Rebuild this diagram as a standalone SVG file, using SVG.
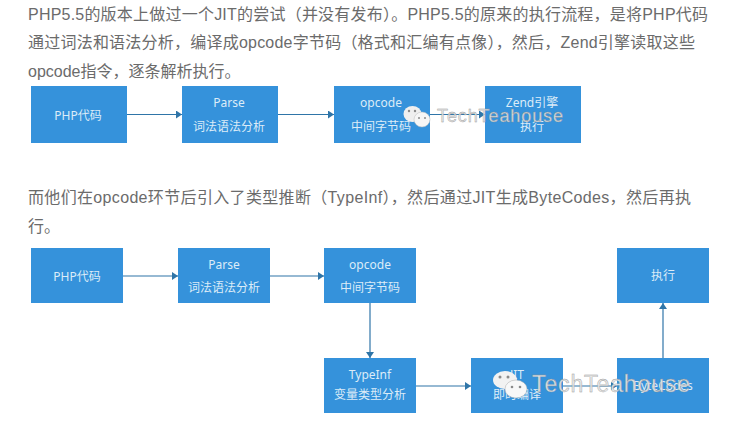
<svg xmlns="http://www.w3.org/2000/svg" width="743" height="444" viewBox="0 0 743 444">
<style>
.p{font-family:"Liberation Sans","Noto Sans CJK SC",sans-serif;font-size:16px;fill:#6b6b6b}
.b{fill:#3592db}
.t{font-family:"Noto Sans","Noto Sans CJK SC",sans-serif;font-size:12px;fill:#dcecf8;text-anchor:middle}
.c{fill:none;stroke:#2f75a8;stroke-width:1.2}
.w{font-family:"Liberation Sans",sans-serif;fill:#e6e6e6;stroke:#8f8f8f;stroke-width:.4;opacity:.9}
.e{fill:#8a8a8a}
</style>
<defs><marker id="a" markerWidth="7" markerHeight="8" refX="6" refY="4" orient="auto" markerUnits="userSpaceOnUse"><path d="M0 0L6 4L0 8Z" fill="#2f75a8"/></marker></defs>
<rect width="743" height="444" fill="#fff"/>
<g id="text">
<text class="p" x="28" y="20" textLength="680" lengthAdjust="spacing">PHP5.5的版本上做过一个JIT的尝试（并没有发布）。PHP5.5的原来的执行流程，是将PHP代码</text>
<text class="p" x="28" y="48" textLength="667" lengthAdjust="spacing">通过词法和语法分析，编译成opcode字节码（格式和汇编有点像），然后，Zend引擎读取这些</text>
<text class="p" x="28" y="77">opcode指令，逐条解析执行。</text>
<text class="p" x="28" y="203" textLength="663" lengthAdjust="spacing">而他们在opcode环节后引入了类型推断（TypeInf），然后通过JIT生成ByteCodes，然后再执</text>
<text class="p" x="28" y="232">行。</text>
</g>
<g id="connectors">
<path class="c" marker-end="url(#a)" d="M127 114.500H182"/>
<path class="c" marker-end="url(#a)" d="M278 114.500H334"/>
<path class="c" marker-end="url(#a)" d="M430 114.500H485"/>
<path class="c" marker-end="url(#a)" d="M123 276H178"/>
<path class="c" marker-end="url(#a)" d="M270 276H324"/>
<path class="c" marker-end="url(#a)" d="M370 303V358"/>
<path class="c" marker-end="url(#a)" d="M416 386H471"/>
<path class="c" marker-end="url(#a)" d="M563 386H617"/>
<path class="c" marker-end="url(#a)" d="M663 358V303"/>
</g>
<g id="n1"><rect class="b" x="31" y="86" width="96" height="57"/><text class="t" x="78" y="120">PHP代码</text></g>
<g id="n2"><rect class="b" x="182" y="86" width="96" height="57"/><text class="t" x="229" y="107">Parse</text><text class="t" x="229" y="131">词法语法分析</text></g>
<g id="n3"><rect class="b" x="334" y="86" width="96" height="57"/><text class="t" x="381" y="107">opcode</text><text class="t" x="381" y="131">中间字节码</text></g>
<g id="n4"><rect class="b" x="485" y="86" width="96" height="57"/><text class="t" x="532" y="107">Zend引擎</text><text class="t" x="532" y="131">执行</text></g>
<g id="n5"><rect class="b" x="31" y="248" width="92" height="55"/><text class="t" x="77" y="281">PHP代码</text></g>
<g id="n6"><rect class="b" x="178" y="248" width="92" height="55"/><text class="t" x="224" y="269">Parse</text><text class="t" x="224" y="292">词法语法分析</text></g>
<g id="n7"><rect class="b" x="324" y="248" width="92" height="55"/><text class="t" x="370" y="269">opcode</text><text class="t" x="370" y="292">中间字节码</text></g>
<g id="n8"><rect class="b" x="617" y="248" width="92" height="55"/><text class="t" x="663" y="280">执行</text></g>
<g id="n9"><rect class="b" x="324" y="358" width="92" height="55"/><text class="t" x="370" y="379">TypeInf</text><text class="t" x="370" y="399">变量类型分析</text></g>
<g id="n10"><rect class="b" x="471" y="358" width="92" height="55"/><text class="t" x="517" y="379">JIT</text><text class="t" x="517" y="399">即时编译</text></g>
<g id="n11"><rect class="b" x="617" y="358" width="92" height="55"/><text class="t" x="663" y="390">ByteCodes</text></g>
<g id="watermark1">
<ellipse cx="412.500" cy="114" rx="9" ry="8" fill="#efefef"/><ellipse class="e" cx="409" cy="111" rx="1.200" ry="1.200"/><ellipse class="e" cx="415" cy="111" rx="1.200" ry="1.200"/>
<ellipse cx="422" cy="119.500" rx="8" ry="7.500" fill="#f6f6f6" stroke="#bbb" stroke-width=".5"/><ellipse class="e" cx="419" cy="118" rx="1" ry="1"/><ellipse class="e" cx="425" cy="118" rx="1" ry="1"/>
<text class="w" x="437" y="122" font-size="18" textLength="126">TechTeahouse</text>
</g>
<g id="watermark2">
<ellipse cx="505" cy="380" rx="12" ry="9" fill="#f2f2f2"/><ellipse class="e" cx="500" cy="377" rx="1.500" ry="1.500"/><ellipse class="e" cx="508" cy="377" rx="1.500" ry="1.500"/>
<ellipse cx="516" cy="389" rx="11" ry="9" fill="#f8f8f8" stroke="#aaa" stroke-width=".5"/><ellipse class="e" cx="512" cy="387" rx="1.300" ry="1.300"/><ellipse class="e" cx="520" cy="387" rx="1.300" ry="1.300"/>
<text class="w" x="532" y="392" font-size="23" textLength="158">TechTeahouse</text>
</g>
</svg>
